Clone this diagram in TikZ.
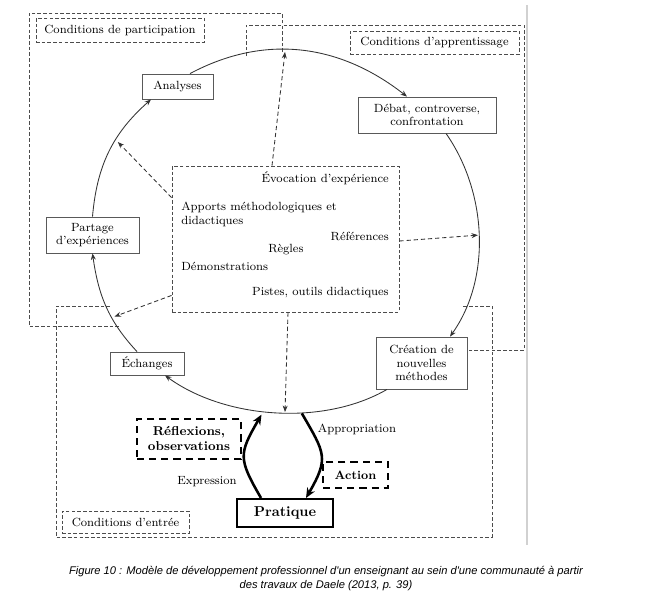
\documentclass[tikz,border=0pt]{standalone}
\usepackage{fontspec}
\newfontfamily\capfont{Liberation Sans}
\usetikzlibrary{arrows.meta,calc}
\begin{document}
\begin{tikzpicture}[x=0.7pt,y=0.7pt,>={Stealth[length=4.5pt,width=3.5pt]},
	font=\fontsize{8.3}{9.5}\selectfont,
	etape/.style={draw=black!65,line width=0.6pt,fill=white,align=center,inner sep=1pt},
	cond/.style={draw=black!70,line width=0.6pt,dash pattern=on 2.5pt off 1.5pt,inner sep=0pt},
	zone/.style={black!70,line width=0.6pt,dash pattern=on 2.5pt off 1.5pt},
	texte/.style={inner sep=0pt},
	fleche/.style={->,black!80,line width=0.6pt},
	apport/.style={->,black!80,line width=0.6pt,dash pattern=on 3pt off 2pt},
	gros/.style={->,line width=1.8pt,>={Stealth[length=7pt,width=6pt]}},
	pointille/.style={draw,line width=1.6pt,dash pattern=on 5pt off 3.5pt,align=center,inner sep=0pt,font=\fontsize{9}{10.5}\selectfont\bfseries}]
	\useasboundingbox (0,0) rectangle (653,-608);
	\coordinate (c) at (285,-232);
	% zones
	\draw[zone] (282,-52) -- (282,-13) -- (29,-13) -- (29,-326) -- (119,-326);
	\draw[zone] (246,-56) -- (246,-25) -- (524,-25) -- (524,-350) -- (467,-350);
	\draw[zone] (110,-306) -- (56,-306) -- (56,-537) -- (492,-537) -- (492,-306) -- (462,-306);
	\draw[black!18,line width=1pt] (527,-5) -- (527,-545);
	\node[cond,minimum width=117.6pt,minimum height=16.8pt] (condpart) at (120,-30) {Conditions de participation};
	\node[cond,minimum width=118.3pt,minimum height=16.1pt] (condapp) at (434.5,-42.5) {Conditions d'apprentissage};
	\node[cond,minimum width=88.9pt,minimum height=15.4pt] (condent) at (125.5,-522) {Conditions d'entrée};
	% cycle
	\node[etape,minimum width=49.7pt,minimum height=17.5pt] (analyses) at (177.5,-86.5) {Analyses};
	\node[etape,minimum width=96.6pt,minimum height=25.2pt] (debat) at (427,-115) {Débat, controverse,\\confrontation};
	\node[etape,minimum width=63.7pt,minimum height=36.4pt] (creation) at (421.5,-363) {Création de\\nouvelles\\méthodes};
	\node[etape,minimum width=51.8pt,minimum height=16.1pt] (echanges) at (147,-363.5) {Échanges};
	\node[etape,minimum width=65.1pt,minimum height=25.2pt] (partage) at (92.5,-235) {Partage\\d'expériences};
	\draw[fleche] ($(analyses.north)+(12.5,0)$) to[out=28,in=142] ($(debat.north)+(-20,0)$);
	\draw[fleche] ($(debat.south)+(19,0)$) to[out=-55,in=54.5,looseness=0.9] ($(creation.north)+(28.5,0)$);
	\draw[fleche] ($(creation.south)+(-34.5,0)$) to[out=-150,in=-36,looseness=0.85] ($(echanges.south)+(18,0)$);
	\draw[fleche] ($(echanges.north)+(-10,0)$) to[out=133,in=-82] (partage.south);
	\draw[fleche] (partage.north) to[out=85,in=-138.5] ($(analyses.south)+(-26.5,0)$);
	% apports
	\node[draw=black!70,line width=0.6pt,dash pattern=on 2.5pt off 1.5pt,minimum width=158.9pt,minimum height=102.2pt] (sources) at (285.5,-239) {};
	\node[texte,anchor=east] (evoc) at (389,-178) {Évocation d'expérience};
	\node[texte,anchor=west,align=left] (apports) at (181,-214.5) {Apports méthodologiques et\\didactiques};
	\node[texte,anchor=east] (refs) at (389,-236) {Références};
	\node[texte,anchor=west] (regles) at (268,-250) {Règles};
	\node[texte,anchor=west] (demo) at (181,-266) {Démonstrations};
	\node[texte,anchor=east] (pistes) at (389,-293) {Pistes, outils didactiques};
	\draw[apport] ($(sources.north)+(-13.5,0)$) -- ($(c)+(90:193 and 180)$);
	\draw[apport] ($(sources.north west)+(0,-32)$) -- ($(c)+(150:193 and 180)$);
	\draw[apport] ($(sources.south west)+(0,17)$) -- ($(c)+(208:193 and 180)$);
	\draw[apport] ($(sources.east)+(0,-2)$) -- ($(c)+(-1:193 and 180)$);
	\draw[apport] ($(sources.south)+(2.5,0)$) -- ($(c)+(270:193 and 180)$);
	% pratique
	\node[draw,line width=1.4pt,minimum width=67.2pt,minimum height=19.6pt,font=\fontsize{10}{12}\selectfont\bfseries] (pratique) at (285,-513) {Pratique};
	\node[pointille,minimum width=72.8pt,minimum height=28pt] (reflexions) at (189,-439) {Réflexions,\\observations};
	\node[pointille,minimum width=45.5pt,minimum height=18.2pt,font=\fontsize{8.5}{10}\selectfont\bfseries] (action) at (355.5,-475) {Action};
	\draw[gros] ($(pratique.north)+(-24,0)$) to[out=120,in=-120,looseness=1.4] ($(c)+(263:193 and 184)$);
	\draw[gros] ($(c)+(275:193 and 182)$) to[out=-60,in=60,looseness=1.4] ($(pratique.north)+(21,0)$);
	\node (expr) at (207,-482) {Expression};
	\node (appr) at (357,-429) {Appropriation};
	\node[align=center,font=\capfont\itshape\fontsize{7.8}{9.8}\selectfont] (legende) at (326,-579) {Figure 10 : Modèle de développement professionnel d'un enseignant au sein d'une communauté à partir\\des travaux de Daele (2013, p. 39)};
\end{tikzpicture}
\end{document}
